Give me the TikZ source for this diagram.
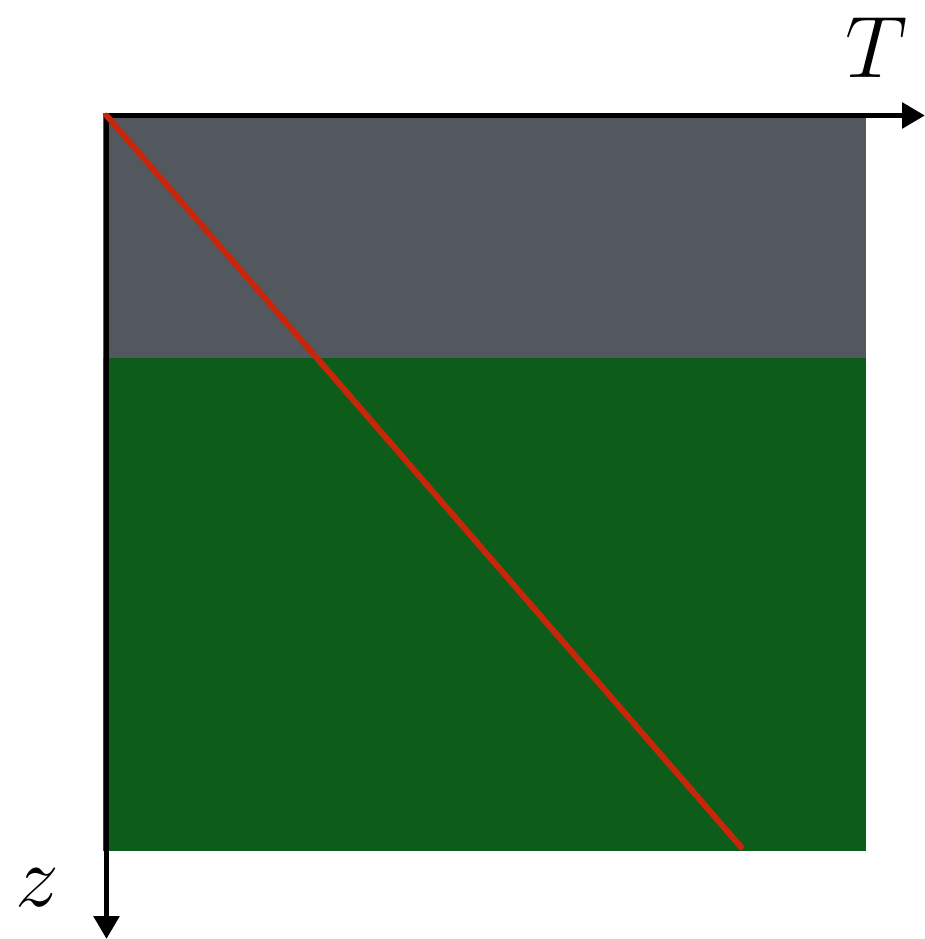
\documentclass[tikz,border=0pt]{standalone}
\usepackage{amsmath,amssymb}
\usepackage{xcolor}
\usepackage{tikz}
\usetikzlibrary{arrows.meta,positioning}
\definecolor{rockgray}{HTML}{53575E}
\definecolor{soilgreen}{HTML}{0E5C1A}
\definecolor{gradred}{HTML}{C8260A}

\begin{document}
\begin{tikzpicture}[
  every node/.style={font=\fontsize{29}{33}\selectfont},
  axis/.style={line width=1.7pt,-{Triangle[length=2.3mm,width=2.5mm]}},
  layer/.style={draw=none},
  profile/.style={gradred,line width=1.7pt,line cap=round}
]
\useasboundingbox (0,0) rectangle (9.25,-9.39);
\fill[layer,rockgray] (1.03,-1.13) rectangle (8.66,-3.58);
\fill[layer,soilgreen] (1.03,-3.58) rectangle (8.66,-8.51);
\coordinate (o) at (1.065,-1.155);
\coordinate (tend) at (9.25,-1.155);
\coordinate (zend) at (1.065,-9.39);
\coordinate (bot) at (7.41,-8.47);
\draw[axis] (o) -- (tend);
\draw[axis] (o) -- (zend);
\node (tlab) at (8.77,-0.48) {$T$};
\node (zlab) at (0.37,-8.88) {$z$};
\draw[profile] (o) -- (bot);
\end{tikzpicture}
\end{document}
